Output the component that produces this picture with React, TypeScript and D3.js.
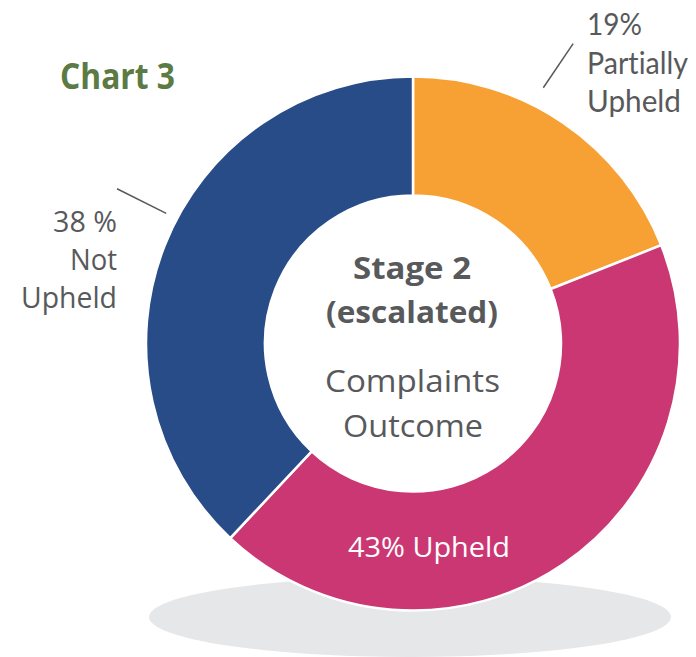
import React from 'react';
import * as d3 from 'd3';

// outcome shares, clockwise from 12 o'clock
const categories = ['Partially Upheld', 'Upheld', 'Not Upheld'];
const values = [19, 43, 38];
const sliceColors = ['#f7a135', '#cb3773', '#284c87'];

const title = 'Chart 3';
const centerBold = ['Stage 2', '(escalated)'];
const centerRegular = ['Complaints', 'Outcome'];
const partialLabel = ['19%', 'Partially', 'Upheld'];
const notUpheldLabel = ['38 %', 'Not', 'Upheld'];
const upheldLabel = '43% Upheld';

const W = 696;
const H = 657;
const cx = 413;
const cy = 343.5;
const outerR = 267;
const innerR = 148;

const textGray = '#58595b';
const font = '"Open Sans", Lato, sans-serif';
// narrower face for the label hugging the right edge
const narrowFont = 'Lato, "Open Sans", sans-serif';

const partialWidths = [55, 101, 94];
const notUpheldWidths = [64, 47, 96];

// point on a circle, angle in degrees clockwise from top
const polar = (deg: number, r: number): [number, number] => {
  const a = (deg * Math.PI) / 180;
  return [cx + r * Math.sin(a), cy - r * Math.cos(a)];
};

export default function App() {
  const pie = d3.pie<number>().sort(null).value(d => d);
  const arcs = pie(values);
  const arc = d3.arc<d3.PieArcDatum<number>>().innerRadius(innerR).outerRadius(outerR);

  const [p1x, p1y] = polar(27, 287);
  const [p2x, p2y] = polar(28.1, 340);
  const [n1x, n1y] = polar(297.8, 279);
  const [n2x, n2y] = polar(297.6, 334);

  return (
    <svg width={W} height={H} style={{ position: 'absolute', left: 0, top: 0, fontVariantLigatures: 'none' }} fontFamily={font}>
      <rect width={W} height={H} fill="#fff" />
      <ellipse cx={410} cy={617} rx={261} ry={40} fill="#e6e7e8" />

      <g transform={`translate(${cx},${cy})`}>
        {arcs.map((a, i) => (
          <path key={categories[i]} d={arc(a) || ''} fill={sliceColors[i]} stroke="#fff" strokeWidth={2.5} />
        ))}
      </g>

      <text x={60} y={89} fontSize={35} fontWeight={700} fill="#5b7a44" textLength={115} lengthAdjust="spacingAndGlyphs">
        {title}
      </text>

      {/* centre text */}
      <g fill={textGray} textAnchor="middle">
        <text x={412} y={279} fontSize={29.5} fontWeight={700} textLength={118} lengthAdjust="spacingAndGlyphs">{centerBold[0]}</text>
        <text x={412} y={323} fontSize={29.5} fontWeight={700} textLength={172} lengthAdjust="spacingAndGlyphs">{centerBold[1]}</text>
        <text x={412.5} y={392} fontSize={31.5} textLength={175} lengthAdjust="spacingAndGlyphs">{centerRegular[0]}</text>
        <text x={413} y={437} fontSize={31.5} textLength={140} lengthAdjust="spacingAndGlyphs">{centerRegular[1]}</text>
      </g>

      {/* partially upheld */}
      <line x1={p1x} y1={p1y} x2={p2x} y2={p2y} stroke={textGray} strokeWidth={1.5} />
      <g fill={textGray} fontSize={30} fontFamily={narrowFont}>
        {partialLabel.map((t, i) => (
          <text key={i} x={587} y={35 + i * 38.5} textLength={partialWidths[i]} lengthAdjust="spacingAndGlyphs">{t}</text>
        ))}
      </g>

      {/* not upheld */}
      <line x1={n1x} y1={n1y} x2={n2x} y2={n2y} stroke={textGray} strokeWidth={1.5} />
      <g fill={textGray} fontSize={30} textAnchor="end">
        {notUpheldLabel.map((t, i) => (
          <text key={i} x={117} y={232 + i * 38} textLength={notUpheldWidths[i]} lengthAdjust="spacingAndGlyphs">{t}</text>
        ))}
      </g>

      <text x={429} y={557} fontSize={28} fill="#fff" textAnchor="middle" textLength={162} lengthAdjust="spacingAndGlyphs">{upheldLabel}</text>
    </svg>
  );
}
